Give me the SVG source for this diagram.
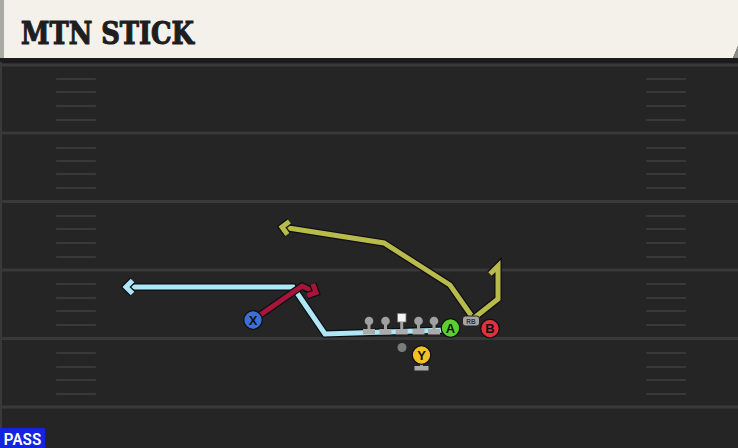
<svg xmlns="http://www.w3.org/2000/svg" width="738" height="448" viewBox="0 0 738 448">
<style>
.yard{stroke:#393939;stroke-width:3}
.hash{stroke:#393939;stroke-width:2.2;stroke-linecap:round}
.out{fill:none;stroke:#0e0e14;stroke-width:7.5;stroke-linejoin:miter;stroke-linecap:butt}
.rt{fill:none;stroke-width:5;stroke-linejoin:miter;stroke-linecap:butt}
.cy{stroke:#aee7f5}
.rd{stroke:#a8153a}
.yl{stroke:#b9ba4c}
.pl{stroke:#111;stroke-width:1.3}
.lbl{font-family:"Liberation Sans",Arial,sans-serif;font-weight:bold;font-size:13px;fill:#111;text-anchor:middle}
.lm{fill:#a0a0a0}
.base{fill:#ababab}
</style>
<defs>
<marker id="aCy" markerUnits="userSpaceOnUse" markerWidth="30" markerHeight="30" viewBox="-15 -15 30 30" refX="0" refY="0" orient="auto" overflow="visible">
<path d="M-6.5,-6.5 L0,0 L-6.5,6.5" fill="none" stroke="#0e0e14" stroke-width="7.5"/>
<path d="M-6.5,-6.5 L0,0 L-6.5,6.5" fill="none" stroke="#aee7f5" stroke-width="5"/>
</marker>
<marker id="aRd" markerUnits="userSpaceOnUse" markerWidth="30" markerHeight="30" viewBox="-15 -15 30 30" refX="0" refY="0" orient="auto" overflow="visible">
<path d="M-6.5,-6.5 L0,0 L-6.5,6.5" fill="none" stroke="#0e0e14" stroke-width="7.5"/>
<path d="M-6.5,-6.5 L0,0 L-6.5,6.5" fill="none" stroke="#a8153a" stroke-width="5"/>
</marker>
<marker id="aYl" markerUnits="userSpaceOnUse" markerWidth="30" markerHeight="30" viewBox="-15 -15 30 30" refX="0" refY="0" orient="auto" overflow="visible">
<path d="M-6.5,-6.5 L0,0 L-6.5,6.5" fill="none" stroke="#0e0e14" stroke-width="7.5"/>
<path d="M-6.5,-6.5 L0,0 L-6.5,6.5" fill="none" stroke="#b9ba4c" stroke-width="5"/>
</marker>
</defs>

<!-- field -->
<rect x="0" y="0" width="738" height="448" fill="#252525"/>
<rect x="0" y="58" width="738" height="5" fill="#1b1b1b"/>
<rect x="0" y="62" width="2" height="386" fill="#3a3a3a"/>
<g id="field">
<line class="yard" x1="0" y1="65" x2="738" y2="65"/>
<line class="yard" x1="0" y1="133" x2="738" y2="133"/>
<line class="yard" x1="0" y1="201.5" x2="738" y2="201.5"/>
<line class="yard" x1="0" y1="270" x2="738" y2="270"/>
<line class="yard" x1="0" y1="338.5" x2="738" y2="338.5"/>
<line class="yard" x1="0" y1="407" x2="738" y2="407"/>
<g id="hashL">
<path class="hash" d="M57,79H95M57,92H95M57,106H95M57,120H95M57,148H95M57,161H95M57,174H95M57,188H95M57,216H95M57,229H95M57,243H95M57,257H95M57,284H95M57,298H95M57,311H95M57,325H95M57,353H95M57,367H95M57,380H95M57,394H95"/>
</g>
<g id="hashR">
<path class="hash" d="M647,79H685M647,92H685M647,106H685M647,120H685M647,148H685M647,161H685M647,174H685M647,188H685M647,216H685M647,229H685M647,243H685M647,257H685M647,284H685M647,298H685M647,311H685M647,325H685M647,353H685M647,367H685M647,380H685M647,394H685"/>
</g>
</g>

<!-- header -->
<g id="header">
<polygon points="0,0 738,0 738,46 733,58 0,58" fill="#f4f1ea"/>
<polygon points="733,58 738,46 738,58" fill="#8a8a86"/>
<rect x="0" y="0" width="4" height="58" fill="#a9aaa4"/>
<text x="21" y="43.5" font-family="'DejaVu Serif',serif" font-weight="bold" font-size="31" fill="#1e1e1e" stroke="#1e1e1e" stroke-width="1.2" textLength="173" lengthAdjust="spacingAndGlyphs">MTN STICK</text>
</g>

<!-- connectors -->
<g id="connectors">
<path class="out" d="M447,330 L325,334 L293,287 L126,287"/>
<path class="rt cy" d="M447,330 L325,334 L293,287 L126,287" marker-end="url(#aCy)"/>

<path class="out" d="M473,318 L450,285 L384,243 L282,227"/>
<path class="rt yl" d="M473,318 L450,285 L384,243 L282,227" marker-end="url(#aYl)"/>
<path class="out" d="M474,318 L498,299 L498,266 L490,274"/>
<path class="rt yl" d="M474,318 L498,299 L498,266 L490,274"/>

<path class="out" d="M253,320 L302,286 L316,292.5"/>
<path class="rt rd" d="M253,320 L302,286 L316,292.5" marker-end="url(#aRd)"/>
</g>

<!-- offensive line -->
<g id="LT"><circle class="lm" cx="369" cy="321" r="4.3"/><rect class="lm" x="367.5" y="323" width="3" height="7"/><rect class="base" x="363" y="329" width="12" height="5.5"/></g>
<g id="LG"><circle class="lm" cx="385.5" cy="321" r="4.3"/><rect class="lm" x="384" y="323" width="3" height="7"/><rect class="base" x="379.5" y="329" width="12" height="5.5"/></g>
<g id="C"><rect x="397.5" y="313.5" width="8.5" height="8.5" fill="#f4f4f4" stroke="#777" stroke-width="0.8"/><rect class="lm" x="400.2" y="322" width="3" height="8"/><rect class="base" x="395.7" y="329" width="12" height="5.5"/></g>
<g id="RG"><circle class="lm" cx="418.5" cy="321" r="4.3"/><rect class="lm" x="417" y="323" width="3" height="7"/><rect class="base" x="412.5" y="329" width="12" height="5.5"/></g>
<g id="RT"><circle class="lm" cx="434" cy="321" r="4.3"/><rect class="lm" x="432.5" y="323" width="3" height="7"/><rect class="base" x="428" y="329" width="12" height="5.5"/></g>
<g id="QB"><circle cx="402" cy="347.5" r="4.5" fill="#7b7b7b"/></g>

<!-- skill players -->
<g id="X"><circle class="pl" cx="253" cy="320" r="9.3" fill="#3d6fd6"/><text class="lbl" x="253" y="324.8">X</text></g>
<g id="A"><circle class="pl" cx="450.5" cy="328" r="9.3" fill="#5ccf2c"/><text class="lbl" x="450.5" y="332.8">A</text></g>
<g id="B"><circle class="pl" cx="490" cy="328.5" r="9.3" fill="#e2313e"/><text class="lbl" x="490" y="333.3">B</text></g>
<g id="Y"><rect x="420" y="362" width="3" height="5" fill="#9c9c9c"/><rect class="base" x="414.5" y="366" width="14" height="4.5"/><circle class="pl" cx="421.5" cy="355" r="9.3" fill="#f0c224"/><text class="lbl" x="421.5" y="359.8">Y</text></g>
<g id="RB"><rect x="462.5" y="316" width="17" height="10" rx="3" fill="#a6a6a6" stroke="#222" stroke-width="1"/><text x="471" y="323.5" font-family="'Liberation Sans',Arial,sans-serif" font-weight="bold" font-size="6.5" fill="#333" text-anchor="middle">RB</text></g>

<!-- pass tag -->
<g id="pass">
<rect x="0" y="428" width="45" height="20" fill="#1224e0"/>
<text x="22.5" y="444.5" font-family="'Roboto Condensed','Liberation Sans Narrow','Liberation Sans',sans-serif" font-weight="500" font-size="16" fill="#ffffff" text-anchor="middle" textLength="38" lengthAdjust="spacingAndGlyphs">PASS</text>
</g>
</svg>
